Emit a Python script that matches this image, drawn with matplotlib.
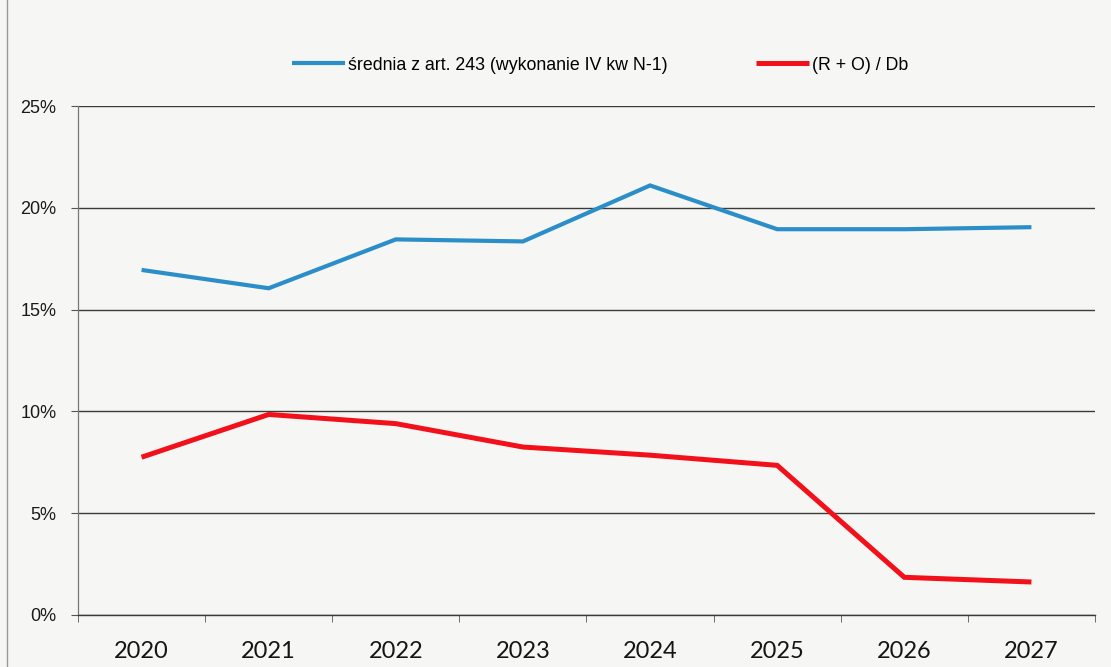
import matplotlib
matplotlib.use("Agg")
import matplotlib.pyplot as plt
from matplotlib.lines import Line2D

years = ["2020", "2021", "2022", "2023", "2024", "2025", "2026", "2027"]
srednia = [16.95, 16.05, 18.45, 18.35, 21.1, 18.95, 18.95, 19.05]
ro_db = [7.75, 9.85, 9.4, 8.25, 7.85, 7.35, 1.85, 1.62]
y_ticks = [0, 5, 10, 15, 20, 25]
series_names = ["średnia z art. 243 (wykonanie IV kw N-1)", "(R + O) / Db"]

bg = "#f6f6f4"
blue = "#2b8ec8"
red = "#f2101a"

fig = plt.figure(figsize=(11.11, 6.67), dpi=100, facecolor=bg)
ax = fig.add_axes([0.0702, 0.078, 0.9154, 0.763])
ax.set_facecolor(bg)

x = list(range(len(years)))
ax.plot(x, srednia, color=blue, lw=3.0, solid_joinstyle="miter", solid_capstyle="butt", zorder=3)
ax.plot(x, ro_db, color=red, lw=3.6, solid_joinstyle="miter", solid_capstyle="butt", zorder=3)

ax.set_xlim(-0.5, len(years) - 0.5)
ax.set_ylim(0, 25)
ax.set_yticks(y_ticks)
ax.set_yticklabels([f"{v}%" for v in y_ticks], fontfamily="Liberation Sans", fontsize=13, color="#1a1a1a")
ax.set_xticks(x)
ax.set_xticklabels(years, fontfamily="Lato", fontsize=17, color="#151515")
ax.set_xticks([i - 0.5 for i in range(len(years) + 1)], minor=True)
ax.tick_params(axis="x", which="major", length=0, pad=18.5)
ax.tick_params(axis="x", which="minor", length=5, direction="out", color="#555555")
ax.tick_params(axis="y", length=5, direction="out", color="#555555", pad=10.5)

ax.grid(axis="y", color="#3a3a3a", lw=1.0, zorder=1)
for s in ["top", "right"]:
    ax.spines[s].set_visible(False)
ax.spines["left"].set_color("#777777")
ax.spines["bottom"].set_color("#3a3a3a")
ax.spines["left"].set_linewidth(0.9)
ax.spines["bottom"].set_linewidth(1.0)

handles = [Line2D([], [], color=blue, lw=3.0, solid_capstyle="butt"),
           Line2D([], [], color=red, lw=3.6, solid_capstyle="butt")]
fig.legend(handles, series_names, loc="center", bbox_to_anchor=(0.54, 0.9025), ncol=2,
           frameon=False, handlelength=3.0, handletextpad=0.15, columnspacing=5.0,
           prop={"family": "Liberation Sans", "size": 12.8})

# outer frame of scanned chart
fig.add_artist(Line2D([0.006, 0.006], [0, 1], transform=fig.transFigure, color="#999999", lw=1))

fig.savefig("out.png", dpi=100, facecolor=bg)
